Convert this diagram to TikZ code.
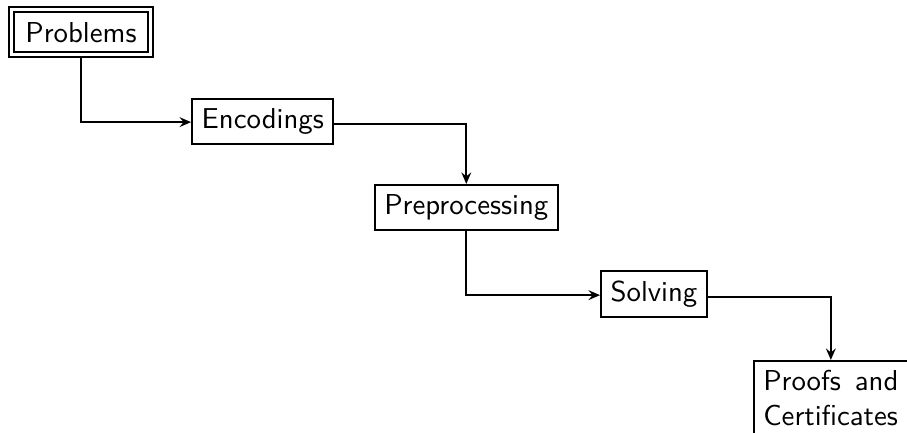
\documentclass[tikz,border=0pt]{standalone}
\usetikzlibrary{arrows.meta}
\begin{document}
\begin{tikzpicture}[
  x=0.3472pt, y=-0.3472pt,
  font=\sffamily,
  line width=0.7pt,
  box/.style={draw, rectangle, inner sep=3.33pt},
  dbox/.style={draw, double, double distance=1pt, rectangle, inner sep=0pt,
               minimum width=48.3pt, minimum height=15.6pt},
  arr/.style={-{Stealth[length=4pt,width=3.4pt,inset=1.4pt]}}
]
  % canvas
  \useasboundingbox (0,0) rectangle (907,432);
  \clip (0,0) rectangle (907,432);

  % stages
  \node[dbox] (problems) at (81,32.3) {Problems};
  \node[box] (encodings) at (262.8,121.3) {Encodings};
  \node[box] (prep) at (466.3,207.5) {Preprocessing};
  \node[box] (solving) at (654,294) {Solving};
  \node[box, anchor=north west, text width=46.9pt, align=justify]
       (proofs) at (752.7,360) {Proofs and Certificates};

  % flow
  \draw[arr] (problems.south) |- (encodings.mid west);
  \draw[arr] ([yshift=-1pt]encodings.east) -| (prep.north);
  \draw[arr] (prep.south) |- (solving.mid west);
  \draw[arr] ([yshift=-1pt]solving.east) -| (proofs.north);
\end{tikzpicture}
\end{document}
